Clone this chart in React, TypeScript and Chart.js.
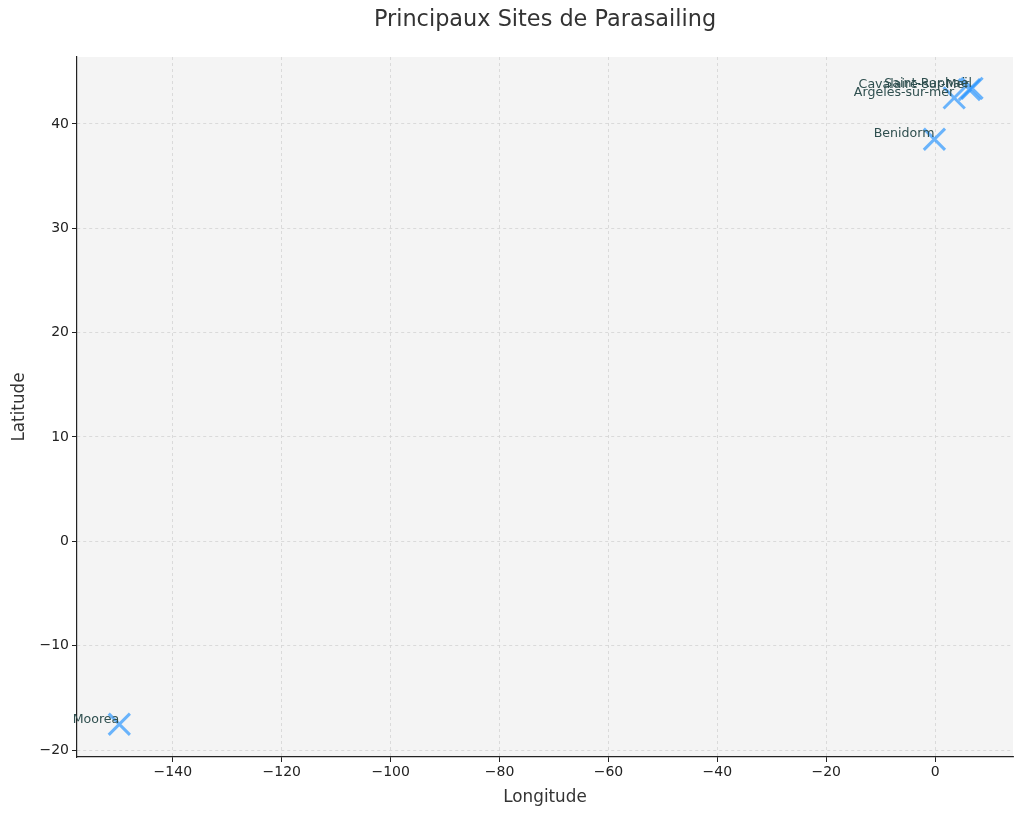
import React, { useEffect, useRef } from "react";
import { Chart, registerables } from "chart.js";

Chart.register(...registerables);

const siteNames = ["Moorea", "Benidorm", "Cavalaire-sur-Mer", "Argelès-sur-mer", "Saint-Raphaël"];
const longitudes = [-149.83, -0.13, 6.3, 3.5, 6.77];
const latitudes = [-17.53, 38.54, 43.3, 42.5, 43.42];
const xTickValues = [-140, -120, -100, -80, -60, -40, -20, 0];
const yTickValues = [-20, -10, 0, 10, 20, 30, 40];

const FONT = "'DejaVu Sans', sans-serif";

export default function App() {
  const ref = useRef<HTMLCanvasElement | null>(null);
  useEffect(() => {
    document.body.style.margin = "0";
    const canvas = ref.current!;
    const fmt = (v: number) => (v < 0 ? "\u2212" + Math.abs(v) : String(v));

    const decor = {
      id: "decor",
      beforeDraw(chart: any) {
        const { ctx, chartArea: a } = chart;
        ctx.save();
        ctx.fillStyle = "#ffffff";
        ctx.fillRect(0, 0, chart.width, chart.height);
        ctx.fillStyle = "#f4f4f4";
        ctx.fillRect(a.left, a.top, a.right - a.left, a.bottom - a.top);
        ctx.restore();
      },
      afterDraw(chart: any) {
        const { ctx, chartArea: a } = chart;
        ctx.save();
        ctx.fillStyle = "#333333";
        ctx.textAlign = "center";
        ctx.textBaseline = "middle";
        ctx.font = `22.4px ${FONT}`;
        ctx.fillText("Principaux Sites de Parasailing", (a.left + a.right) / 2, 20);
        ctx.font = `16.8px ${FONT}`;
        ctx.fillText("Longitude", (a.left + a.right) / 2, 798);
        ctx.translate(20, (a.top + a.bottom) / 2);
        ctx.rotate(-Math.PI / 2);
        ctx.fillText("Latitude", 0, 0);
        ctx.restore();
      },
      afterDatasetsDraw(chart: any) {
        const { ctx, scales } = chart;
        ctx.save();
        ctx.font = `12.6px ${FONT}`;
        ctx.fillStyle = "#2f4f4f";
        ctx.textAlign = "right";
        ctx.textBaseline = "middle";
        siteNames.forEach((n, i) => {
          const px = scales.x.getPixelForValue(longitudes[i]);
          const py = scales.y.getPixelForValue(latitudes[i]);
          ctx.fillText(n, px, py - 5);
        });
        ctx.restore();
      },
    };

    const chart = new Chart(canvas, {
      type: "scatter",
      data: {
        datasets: [
          {
            data: longitudes.map((x, i) => ({ x, y: latitudes[i] })),
            pointStyle: "crossRot",
            pointRadius: 15,
            pointHoverRadius: 15,
            pointBorderWidth: 3,
            borderColor: "rgba(30,144,255,0.65)",
            backgroundColor: "rgba(30,144,255,0.65)",
          },
        ],
      },
      options: {
        animation: false,
        responsive: false,
        events: [],
        layout: { autoPadding: false, padding: { top: 57, right: 11, left: 0, bottom: 0 } },
        plugins: { legend: { display: false }, tooltip: { enabled: false }, title: { display: false } },
        scales: {
          x: {
            type: "linear",
            min: -157.6,
            max: 14.3,
            afterBuildTicks: (s: any) => {
              s.ticks = xTickValues.map((v) => ({ value: v }));
            },
            afterFit: (s: any) => {
              s.height = 61;
            },
            ticks: { callback: (v: any) => fmt(Number(v)), color: "#222", font: { family: FONT, size: 14 }, padding: 2, maxRotation: 0 },
            grid: { color: "#d4d4d4", lineWidth: 0.8, tickLength: 5, tickColor: "#222", tickWidth: 1 },
            border: { display: true, color: "#222", width: 1.2, dash: [3, 3] },
          },
          y: {
            type: "linear",
            min: -20.67,
            max: 46.42,
            afterBuildTicks: (s: any) => {
              s.ticks = yTickValues.map((v) => ({ value: v }));
            },
            afterFit: (s: any) => {
              s.width = 77;
            },
            ticks: { callback: (v: any) => fmt(Number(v)), color: "#222", font: { family: FONT, size: 14 }, padding: 3 },
            grid: { color: "#d4d4d4", lineWidth: 0.8, tickLength: 5, tickColor: "#222", tickWidth: 1 },
            border: { display: true, color: "#222", width: 1.2, dash: [3, 3] },
          },
        },
      },
      plugins: [decor],
    } as any);
    return () => chart.destroy();
  }, []);
  return (
    <div style={{ position: "absolute", left: 0, top: 0, width: 1024, height: 818 }}>
      <canvas ref={ref} width={1024} height={818} style={{ width: 1024, height: 818 }} />
    </div>
  );
}
